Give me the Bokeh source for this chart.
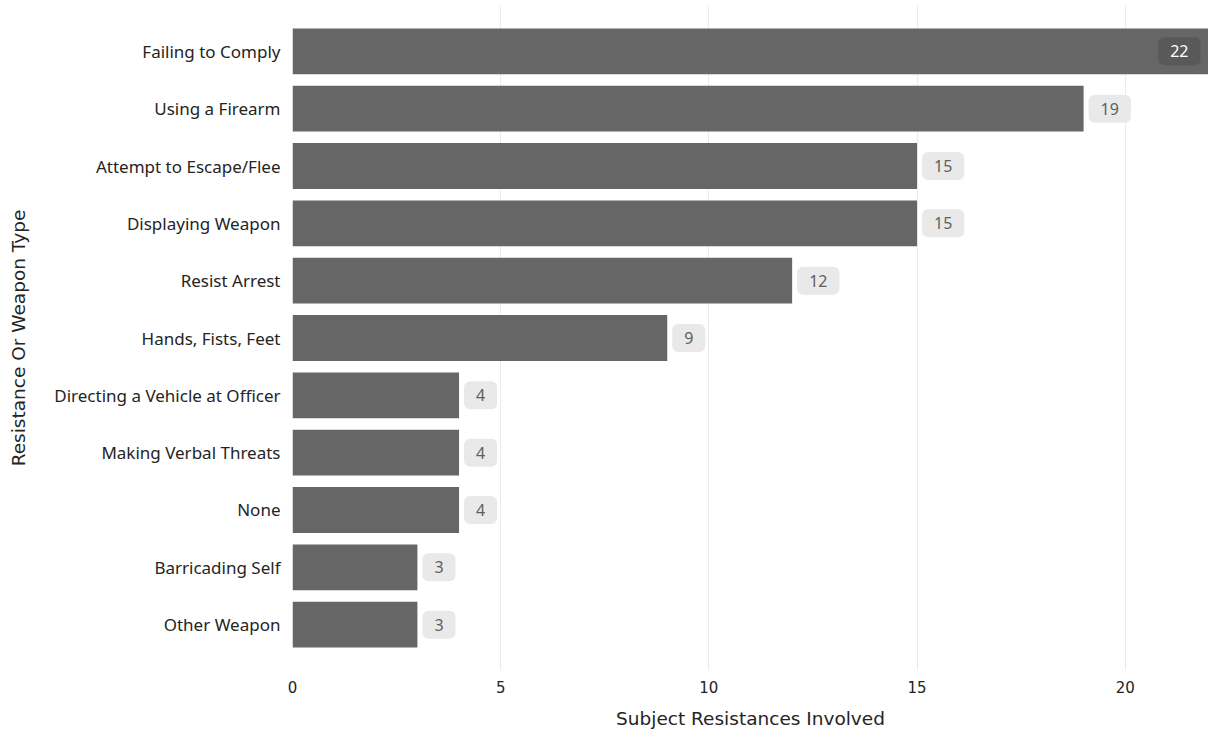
from bokeh.plotting import figure
from bokeh.models import FactorRange, Range1d, ColumnDataSource, FixedTicker
from bokeh.core.properties import value
from bokeh.embed import file_html
from bokeh.resources import INLINE

categories = ["Failing to Comply", "Using a Firearm", "Attempt to Escape/Flee",
              "Displaying Weapon", "Resist Arrest", "Hands, Fists, Feet",
              "Directing a Vehicle at Officer", "Making Verbal Threats", "None",
              "Barricading Self", "Other Weapon"]
counts = [22, 19, 15, 15, 12, 9, 4, 4, 4, 3, 3]
x_ticks = [0, 5, 10, 15, 20]
x_max = 22

y_range = FactorRange(factors=list(reversed(categories)), range_padding=0.3,
                      range_padding_units="absolute")
p = figure(width=1208, height=731, y_range=y_range, x_range=Range1d(0, x_max),
           output_backend="svg", toolbar_location=None,
           min_border_top=5, min_border_right=0, min_border_left=292, min_border_bottom=60)
p.outline_line_color = None
p.background_fill_color = "white"
p.border_fill_color = "white"

src = ColumnDataSource(dict(cat=categories, val=counts))
p.hbar(y="cat", right="val", left=0, height=0.8, source=src, color="#666666", line_color=None)

inside = [i for i, c in enumerate(counts) if c >= x_max]
outside = [i for i, c in enumerate(counts) if c < x_max]
src_out = ColumnDataSource(dict(cat=[categories[i] for i in outside], val=[counts[i] for i in outside],
                                lab=[str(counts[i]) for i in outside]))
src_in = ColumnDataSource(dict(cat=[categories[i] for i in inside], val=[counts[i] for i in inside],
                               lab=[str(counts[i]) for i in inside]))
pad = dict(left=12, right=12, top=8, bottom=8)
p.text(x="val", y="cat", text="lab", source=src_out, x_offset=5, text_align="left",
       text_baseline="middle", text_font=value("Noto Sans"), text_font_size="16px",
       text_color="#605e5c", background_fill_color="#e9e9e9", padding=pad, border_radius=6)
p.text(x="val", y="cat", text="lab", source=src_in, x_offset=-8, text_align="right",
       text_baseline="middle", text_font=value("Noto Sans"), text_font_size="16px",
       text_color="white", background_fill_color="#595959", padding=pad, border_radius=6)

p.xgrid.grid_line_color = "#ebebeb"
p.xgrid.ticker = FixedTicker(ticks=x_ticks)
p.ygrid.grid_line_color = None
p.xaxis.ticker = FixedTicker(ticks=x_ticks)
for ax in (p.xaxis, p.yaxis):
    ax.axis_line_color = None
    ax.major_tick_line_color = None
    ax.minor_tick_line_color = None
    ax.major_tick_out = 0
    ax.major_tick_in = 0

p.yaxis.major_label_text_font = "Noto Sans"
p.yaxis.major_label_text_font_size = "17px"
p.yaxis.major_label_text_color = "#252423"
p.yaxis.major_label_standoff = 12
p.yaxis.axis_label = "Resistance Or Weapon Type"
p.yaxis.axis_label_text_font = "DejaVu Sans"
p.yaxis.axis_label_text_font_style = "normal"
p.yaxis.axis_label_text_font_size = "18.5px"
p.yaxis.axis_label_text_color = "#252423"
p.yaxis.axis_label_standoff = 22

p.xaxis.major_label_text_font = "DejaVu Sans"
p.xaxis.major_label_text_font_size = "15px"
p.xaxis.major_label_text_color = "#252423"
p.xaxis.major_label_standoff = 10
p.xaxis.axis_label = "Subject Resistances Involved"
p.xaxis.axis_label_text_font = "DejaVu Sans"
p.xaxis.axis_label_text_font_style = "normal"
p.xaxis.axis_label_text_font_size = "18.5px"
p.xaxis.axis_label_text_color = "#252423"
p.xaxis.axis_label_standoff = 12

open("out.html", "w").write(file_html(p, INLINE))
